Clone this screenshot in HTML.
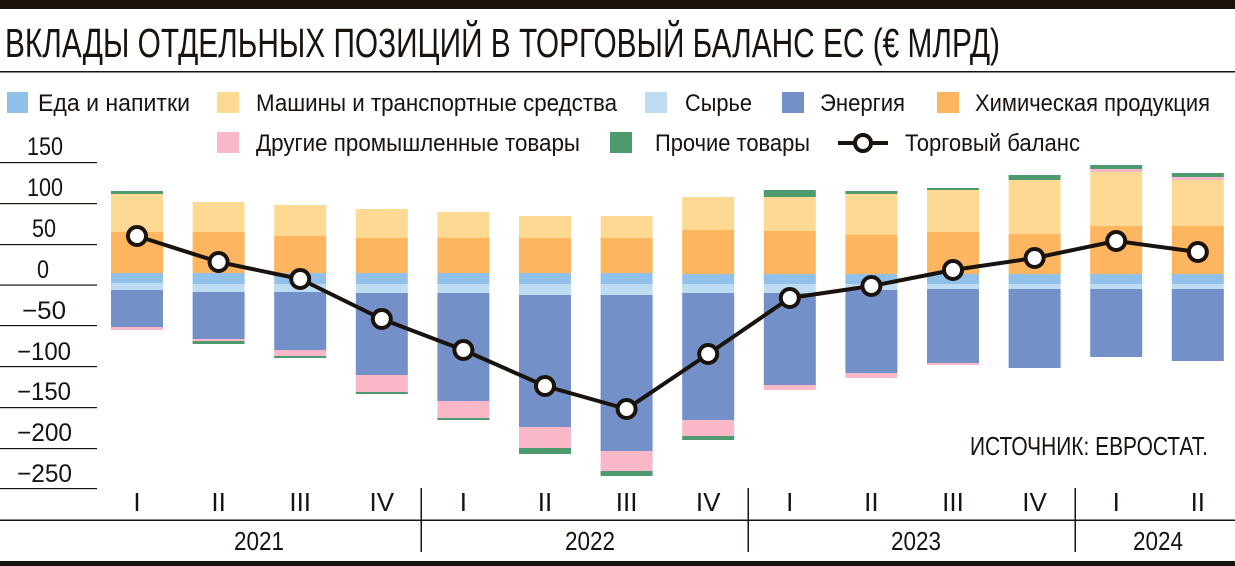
<!DOCTYPE html>
<html><head><meta charset="utf-8"><style>
html,body{margin:0;padding:0;background:#fff;}
svg{display:block;}
text{font-family:"Liberation Sans Narrow","Liberation Sans",sans-serif;fill:#1a120c;}
</style></head><body>
<svg width="1235" height="566" viewBox="0 0 1235 566" xmlns="http://www.w3.org/2000/svg">
<rect x="0" y="0" width="1235" height="9" fill="#1a120c"/>
<text x="5" y="57" font-size="41" textLength="995" lengthAdjust="spacingAndGlyphs">ВКЛАДЫ ОТДЕЛЬНЫХ ПОЗИЦИЙ В ТОРГОВЫЙ БАЛАНС ЕС (€ МЛРД)</text>
<rect x="0" y="71" width="1235" height="1.5" fill="#1a120c"/>

<g font-size="24">
<rect x="7" y="92" width="21" height="21" fill="#91c1ea"/>
<text x="38" y="111" textLength="152" lengthAdjust="spacingAndGlyphs">Еда и напитки</text>
<rect x="217" y="92" width="22" height="21" fill="#fdd994"/>
<text x="256" y="111" textLength="361" lengthAdjust="spacingAndGlyphs">Машины и транспортные средства</text>
<rect x="645" y="92" width="22" height="21" fill="#bddcf1"/>
<text x="685" y="111" textLength="67" lengthAdjust="spacingAndGlyphs">Сырье</text>
<rect x="782" y="92" width="22" height="21" fill="#7391c8"/>
<text x="820" y="111" textLength="85" lengthAdjust="spacingAndGlyphs">Энергия</text>
<rect x="937" y="92" width="22" height="21" fill="#fdb55f"/>
<text x="975" y="111" textLength="235" lengthAdjust="spacingAndGlyphs">Химическая продукция</text>
<rect x="217" y="132" width="22" height="21" fill="#f9b7c7"/>
<text x="256" y="151" textLength="324" lengthAdjust="spacingAndGlyphs">Другие промышленные товары</text>
<rect x="610" y="132" width="22" height="21" fill="#4e9a6f"/>
<text x="655" y="151" textLength="155" lengthAdjust="spacingAndGlyphs">Прочие товары</text>
<line x1="838" y1="143" x2="888" y2="143" stroke="#1a120c" stroke-width="4"/>
<circle cx="863" cy="143" r="8" fill="#fff" stroke="#1a120c" stroke-width="4"/>
<text x="905" y="151" textLength="175" lengthAdjust="spacingAndGlyphs">Торговый баланс</text>
</g>

<g font-size="25" lengthAdjust="spacingAndGlyphs">
<text x="27" y="155" textLength="36" lengthAdjust="spacingAndGlyphs">150</text>
<text x="27" y="196" textLength="36" lengthAdjust="spacingAndGlyphs">100</text>
<text x="32" y="237" textLength="24" lengthAdjust="spacingAndGlyphs">50</text>
<text x="37" y="278" textLength="12" lengthAdjust="spacingAndGlyphs">0</text>
<text x="22" y="319" textLength="44" lengthAdjust="spacingAndGlyphs">−50</text>
<text x="17" y="360" textLength="54" lengthAdjust="spacingAndGlyphs">−100</text>
<text x="17" y="400" textLength="54" lengthAdjust="spacingAndGlyphs">−150</text>
<text x="17" y="441" textLength="55" lengthAdjust="spacingAndGlyphs">−200</text>
<text x="17" y="482" textLength="55" lengthAdjust="spacingAndGlyphs">−250</text>
</g>
<g fill="#1a120c">
<rect x="0" y="162" width="97" height="1.2"/>
<rect x="0" y="203" width="97" height="1.2"/>
<rect x="0" y="244" width="97" height="1.2"/>
<rect x="0" y="284.5" width="97" height="1.2"/>
<rect x="0" y="325" width="97" height="1.2"/>
<rect x="0" y="366" width="97" height="1.2"/>
<rect x="0" y="407" width="97" height="1.2"/>
<rect x="0" y="448" width="97" height="1.2"/>
<rect x="0" y="488" width="97" height="1.2"/>
</g>

<g>
<g transform="translate(111,0)">
<rect y="191" width="52" height="3" fill="#4e9a6f"/><rect y="194" width="52" height="38" fill="#fdd994"/><rect y="232" width="52" height="41" fill="#fdb55f"/><rect y="273" width="52" height="10" fill="#91c1ea"/><rect y="283" width="52" height="7" fill="#bddcf1"/><rect y="290" width="52" height="37" fill="#7391c8"/><rect y="327" width="52" height="3" fill="#f9b7c7"/>
</g>
<g transform="translate(192.6,0)">
<rect y="202" width="52" height="30" fill="#fdd994"/><rect y="232" width="52" height="41" fill="#fdb55f"/><rect y="273" width="52" height="11" fill="#91c1ea"/><rect y="284" width="52" height="8" fill="#bddcf1"/><rect y="292" width="52" height="47" fill="#7391c8"/><rect y="339" width="52" height="2" fill="#f9b7c7"/><rect y="341" width="52" height="3" fill="#4e9a6f"/>
</g>
<g transform="translate(274.2,0)">
<rect y="205" width="52" height="31" fill="#fdd994"/><rect y="236" width="52" height="37" fill="#fdb55f"/><rect y="273" width="52" height="11" fill="#91c1ea"/><rect y="284" width="52" height="8" fill="#bddcf1"/><rect y="292" width="52" height="58" fill="#7391c8"/><rect y="350" width="52" height="6" fill="#f9b7c7"/><rect y="356" width="52" height="2" fill="#4e9a6f"/>
</g>
<g transform="translate(355.8,0)">
<rect y="209" width="52" height="29" fill="#fdd994"/><rect y="238" width="52" height="35" fill="#fdb55f"/><rect y="273" width="52" height="11" fill="#91c1ea"/><rect y="284" width="52" height="9" fill="#bddcf1"/><rect y="293" width="52" height="82" fill="#7391c8"/><rect y="375" width="52" height="17" fill="#f9b7c7"/><rect y="392" width="52" height="2" fill="#4e9a6f"/>
</g>
<g transform="translate(437.4,0)">
<rect y="212" width="52" height="26" fill="#fdd994"/><rect y="238" width="52" height="35" fill="#fdb55f"/><rect y="273" width="52" height="11" fill="#91c1ea"/><rect y="284" width="52" height="9" fill="#bddcf1"/><rect y="293" width="52" height="108" fill="#7391c8"/><rect y="401" width="52" height="17" fill="#f9b7c7"/><rect y="418" width="52" height="2" fill="#4e9a6f"/>
</g>
<g transform="translate(519,0)">
<rect y="216" width="52" height="22" fill="#fdd994"/><rect y="238" width="52" height="35" fill="#fdb55f"/><rect y="273" width="52" height="11" fill="#91c1ea"/><rect y="284" width="52" height="11" fill="#bddcf1"/><rect y="295" width="52" height="132" fill="#7391c8"/><rect y="427" width="52" height="21" fill="#f9b7c7"/><rect y="448" width="52" height="6" fill="#4e9a6f"/>
</g>
<g transform="translate(600.6,0)">
<rect y="216" width="52" height="22" fill="#fdd994"/><rect y="238" width="52" height="35" fill="#fdb55f"/><rect y="273" width="52" height="11" fill="#91c1ea"/><rect y="284" width="52" height="11" fill="#bddcf1"/><rect y="295" width="52" height="156" fill="#7391c8"/><rect y="451" width="52" height="20" fill="#f9b7c7"/><rect y="471" width="52" height="5" fill="#4e9a6f"/>
</g>
<g transform="translate(682.2,0)">
<rect y="197" width="52" height="33" fill="#fdd994"/><rect y="230" width="52" height="44" fill="#fdb55f"/><rect y="274" width="52" height="10" fill="#91c1ea"/><rect y="284" width="52" height="9" fill="#bddcf1"/><rect y="293" width="52" height="127" fill="#7391c8"/><rect y="420" width="52" height="16" fill="#f9b7c7"/><rect y="436" width="52" height="4" fill="#4e9a6f"/>
</g>
<g transform="translate(763.8,0)">
<rect y="190" width="52" height="7" fill="#4e9a6f"/><rect y="197" width="52" height="34" fill="#fdd994"/><rect y="231" width="52" height="43" fill="#fdb55f"/><rect y="274" width="52" height="10" fill="#91c1ea"/><rect y="284" width="52" height="9" fill="#bddcf1"/><rect y="293" width="52" height="92" fill="#7391c8"/><rect y="385" width="52" height="5" fill="#f9b7c7"/>
</g>
<g transform="translate(845.4,0)">
<rect y="191" width="52" height="3" fill="#4e9a6f"/><rect y="194" width="52" height="41" fill="#fdd994"/><rect y="235" width="52" height="39" fill="#fdb55f"/><rect y="274" width="52" height="10" fill="#91c1ea"/><rect y="284" width="52" height="6" fill="#bddcf1"/><rect y="290" width="52" height="83" fill="#7391c8"/><rect y="373" width="52" height="5" fill="#f9b7c7"/>
</g>
<g transform="translate(927,0)">
<rect y="188" width="52" height="2" fill="#4e9a6f"/><rect y="190" width="52" height="42" fill="#fdd994"/><rect y="232" width="52" height="42" fill="#fdb55f"/><rect y="274" width="52" height="10" fill="#91c1ea"/><rect y="284" width="52" height="5" fill="#bddcf1"/><rect y="289" width="52" height="74" fill="#7391c8"/><rect y="363" width="52" height="2" fill="#f9b7c7"/>
</g>
<g transform="translate(1008.6,0)">
<rect y="175" width="52" height="5" fill="#4e9a6f"/><rect y="180" width="52" height="54" fill="#fdd994"/><rect y="234" width="52" height="40" fill="#fdb55f"/><rect y="274" width="52" height="10" fill="#91c1ea"/><rect y="284" width="52" height="5" fill="#bddcf1"/><rect y="289" width="52" height="79" fill="#7391c8"/>
</g>
<g transform="translate(1090.2,0)">
<rect y="165" width="52" height="4" fill="#4e9a6f"/><rect y="169" width="52" height="3" fill="#f9b7c7"/><rect y="172" width="52" height="54" fill="#fdd994"/><rect y="226" width="52" height="48" fill="#fdb55f"/><rect y="274" width="52" height="10" fill="#91c1ea"/><rect y="284" width="52" height="5" fill="#bddcf1"/><rect y="289" width="52" height="68" fill="#7391c8"/>
</g>
<g transform="translate(1171.8,0)">
<rect y="173" width="52" height="4" fill="#4e9a6f"/><rect y="177" width="52" height="3" fill="#f9b7c7"/><rect y="180" width="52" height="46" fill="#fdd994"/><rect y="226" width="52" height="48" fill="#fdb55f"/><rect y="274" width="52" height="10" fill="#91c1ea"/><rect y="284" width="52" height="5" fill="#bddcf1"/><rect y="289" width="52" height="72" fill="#7391c8"/>
</g>
</g>

<polyline fill="none" stroke="#1a120c" stroke-width="4" stroke-linejoin="round"
 points="137,236 218.6,262 300.2,279 381.8,319 463.4,350 545,386 626.6,409 708.2,354 789.8,298 871.4,286 953,270 1034.6,258 1116.2,241 1197.8,252"/>
<g fill="#fff" stroke="#1a120c" stroke-width="4">
<circle cx="137" cy="236" r="9"/><circle cx="218.6" cy="262" r="9"/><circle cx="300.2" cy="279" r="9"/><circle cx="381.8" cy="319" r="9"/><circle cx="463.4" cy="350" r="9"/><circle cx="545" cy="386" r="9"/><circle cx="626.6" cy="409" r="9"/><circle cx="708.2" cy="354" r="9"/><circle cx="789.8" cy="298" r="9"/><circle cx="871.4" cy="286" r="9"/><circle cx="953" cy="270" r="9"/><circle cx="1034.6" cy="258" r="9"/><circle cx="1116.2" cy="241" r="9"/><circle cx="1197.8" cy="252" r="9"/>
</g>

<text x="1208" y="455" font-size="26" text-anchor="end" textLength="238" lengthAdjust="spacingAndGlyphs">ИСТОЧНИК: ЕВРОСТАТ.</text>

<g font-size="26" text-anchor="middle">
<text x="137" y="511">I</text><text x="218.6" y="511">II</text><text x="300.2" y="511">III</text><text x="381.8" y="511">IV</text>
<text x="463.4" y="511">I</text><text x="545" y="511">II</text><text x="626.6" y="511">III</text><text x="708.2" y="511">IV</text>
<text x="789.8" y="511">I</text><text x="871.4" y="511">II</text><text x="953" y="511">III</text><text x="1034.6" y="511">IV</text>
<text x="1116.2" y="511">I</text><text x="1197.8" y="511">II</text>
<text x="259" y="550" textLength="50" lengthAdjust="spacingAndGlyphs">2021</text><text x="590" y="550" textLength="50" lengthAdjust="spacingAndGlyphs">2022</text><text x="916" y="550" textLength="50" lengthAdjust="spacingAndGlyphs">2023</text><text x="1158" y="550" textLength="50" lengthAdjust="spacingAndGlyphs">2024</text>
</g>
<rect x="0" y="519.5" width="1235" height="1.5" fill="#1a120c"/>
<rect x="420.5" y="488" width="1.5" height="64" fill="#1a120c"/>
<rect x="747.5" y="488" width="1.5" height="64" fill="#1a120c"/>
<rect x="1074.5" y="488" width="1.5" height="64" fill="#1a120c"/>
<rect x="0" y="561" width="1235" height="5" fill="#1a120c"/>
</svg>
</body></html>
